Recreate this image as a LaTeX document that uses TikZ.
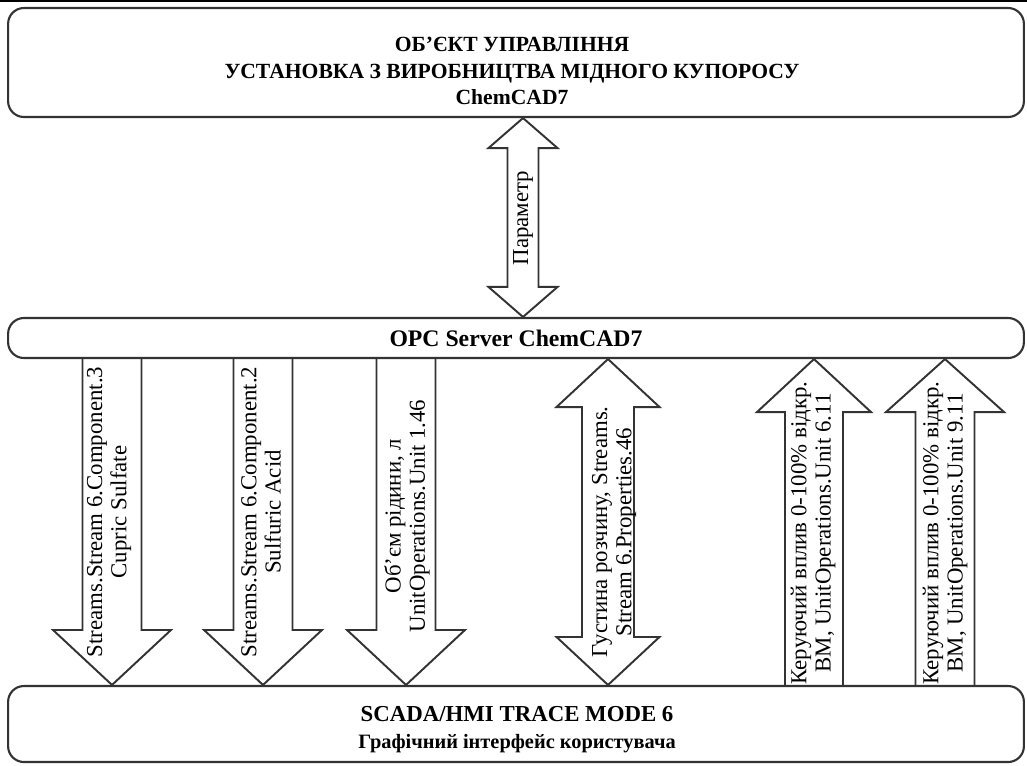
\documentclass[tikz,border=0pt]{standalone}
\usepackage{fontspec}
\setmainfont{Liberation Serif}
\usetikzlibrary{calc}

\tikzset{
    box/.style={draw=black!80, line width=1.2pt, rounded corners=9pt},
    blk/.style={draw=black!80, line width=1.1pt, line join=miter},
    title/.style={align=center, font=\bfseries\fontsize{12.3}{15.3}\selectfont},
    lbl/.style={rotate=90, align=center, inner sep=0pt, font=\fontsize{13}{13.8}\selectfont}
}

% block arrow: tail, tip, half shaft, half head, head offset
\newcommand{\blockarrow}[5]{%
    \draw[blk] ($(#1)+(-#3,0)$) -- ($(#2)+(-#3,#5)$) -- ($(#2)+(-#4,#5)$) -- (#2)
        -- ($(#2)+(#4,#5)$) -- ($(#2)+(#3,#5)$) -- ($(#1)+(#3,0)$);}
% double block arrow: top, bottom, half shaft, half head, head length
\newcommand{\blockboth}[5]{%
    \draw[blk] (#1) -- ($(#1)+(#4,#5)$) -- ($(#1)+(#3,#5)$) -- ($(#2)+(#3,-#5)$)
        -- ($(#2)+(#4,-#5)$) -- (#2) -- ($(#2)+(-#4,-#5)$) -- ($(#2)+(-#3,-#5)$)
        -- ($(#1)+(-#3,#5)$) -- ($(#1)+(-#4,#5)$) -- cycle;}

\begin{document}
\begin{tikzpicture}[x=0.02cm, y=-0.02cm]
    \useasboundingbox (0,0) rectangle (1027,765);
    \draw[line width=1.5pt] (0,1) -- (1027,1);

    \node[box, minimum width=20.32cm, minimum height=2.18cm] at (516,62.5) (obj) {};
    \node[title] at (512,71) (objtxt) {ОБ’ЄКТ УПРАВЛІННЯ\\УСТАНОВКА З ВИРОБНИЦТВА МІДНОГО КУПОРОСУ\\ChemCAD7};
    \node[box, minimum width=20.32cm, minimum height=0.8cm, title, font=\bfseries\fontsize{13.5}{15}\selectfont] at (516,338) (opc) {OPC Server ChemCAD7};
    \node[box, minimum width=20.32cm, minimum height=1.52cm] at (516,724) (scada) {};
    \node[title] at (517,730) (scadatxt) {{\fontsize{13}{15.3}\selectfont SCADA/HMI TRACE MODE 6}\\{\fontsize{11.6}{15.3}\selectfont Графічний інтерфейс користувача}};

    \foreach \n/\x in {1/112,2/263,3/406,4/608,5/814,6/945} {
        \coordinate (s\n) at (opc.south -| \x,0);
        \coordinate (e\n) at (scada.north -| \x,0);
    }
    \coordinate (p1) at (obj.south -| 523,0);
    \coordinate (p2) at (opc.north -| 523,0);

    \blockboth{p1}{p2}{15.5}{34.5}{30}
    \blockarrow{s1}{e1}{29.5}{59}{-55}
    \blockarrow{s2}{e2}{29.5}{59}{-55}
    \blockarrow{s3}{e3}{29.5}{59}{-55}
    \blockboth{s4}{e4}{26}{51.5}{48}
    \blockarrow{e5}{s5}{29}{57}{53}
    \blockarrow{e6}{s6}{29.5}{59}{53}

    \node[lbl] at (523,218) (par) {Параметр};
    \node[lbl] at (109,512) (l1) {Streams.Stream 6.Component.3\\Cupric Sulfate};
    \node[lbl] at (261,512) (l2) {Streams.Stream 6.Component.2\\Sulfuric Acid};
    \node[lbl] at (407,516) (l3) {Об’єм рідини, л\\UnitOperations.Unit 1.46};
    \node[lbl] at (614,532) (l4) {Густина розчину, Streams.\\Stream 6.Properties.46};
    \node[lbl] at (813,533) (l5) {Керуючий вплив 0-100\% відкр.\\ВМ, UnitOperations.Unit 6.11};
    \node[lbl] at (945,533) (l6) {Керуючий вплив 0-100\% відкр.\\ВМ, UnitOperations.Unit 9.11};
\end{tikzpicture}
\end{document}
